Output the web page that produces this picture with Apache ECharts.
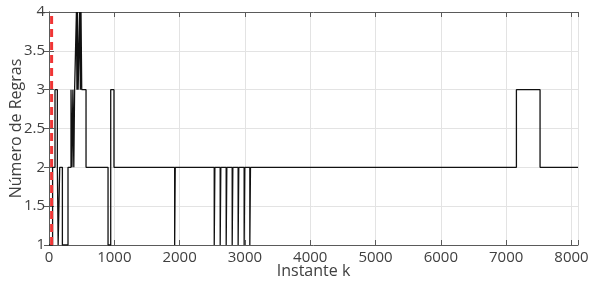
<!DOCTYPE html>
<html lang="pt">
<head>
<meta charset="UTF-8">
<title>Número de Regras</title>
<style>
  html, body { margin: 0; padding: 0; background: #fff; }
  #chart { width: 594px; height: 293px; }
</style>
</head>
<body>
<div id="chart"></div>
<script src="https://cdn.jsdelivr.net/npm/echarts@6/dist/echarts.min.js"></script>
<script>
// instantes onde o número de regras muda, e o novo valor a partir daí
var stepK = [0, 55, 92, 128, 140, 164, 205, 291,
  337, 352, 366, 380, 392, 420, 428, 436, 446, 470, 480, 490, 501, 567,
  904, 945, 995,
  1924, 1933,
  2530, 2540, 2621, 2631, 2713, 2723, 2805, 2815, 2896, 2906, 2988, 2998, 3075, 3085,
  7157, 7519, 8100]
var stepV = [1, 2, 3, 2, 1, 2, 1, 2,
  3, 2, 3, 2, 3, 4, 3, 4, 3, 4, 3, 4, 3, 2,
  1, 3, 2,
  1, 2,
  1, 2, 1, 2, 1, 2, 1, 2, 1, 2, 1, 2, 1, 2,
  3, 2, 2]
// linha vertical tracejada (vermelha)
var markK = 40
var yRange = [1, 4]
var xTicks = [0, 1000, 2000, 3000, 4000, 5000, 6000, 7000, 8000]

var regras = stepK.map(function (k, i) { return [k, stepV[i]] })
var marca = yRange.map(function (v) { return [markK, v] })

var font = 'Open Sans'
var txt = '#404040'
var axisCol = '#5a5a5a'

var chart = echarts.init(document.getElementById('chart'))
chart.setOption({
  animation: false,
  grid: { left: 49, right: 16, top: 12, bottom: 48, containLabel: false, outerBoundsMode: 'none' },
  xAxis: [{
    type: 'value', min: 0, max: 8100, interval: 1000,
    name: 'Instante k', nameLocation: 'middle', nameGap: 18, nameMoveOverlap: false,
    nameTextStyle: { fontFamily: font, fontSize: 16, color: txt },
    axisLine: { lineStyle: { color: axisCol, width: 1 } },
    axisTick: { inside: true, length: 5, lineStyle: { color: axisCol } },
    axisLabel: { fontFamily: font, fontSize: 15, color: txt, margin: 5,
      formatter: function (v) { return xTicks.indexOf(v) >= 0 ? v : '' } },
    splitLine: { show: true, lineStyle: { color: '#e3e3e3', width: 1 } }
  }, {
    type: 'value', position: 'top', min: 0, max: 8100, interval: 1000,
    axisLine: { show: true, lineStyle: { color: axisCol, width: 1 } },
    axisTick: { inside: true, length: 5, lineStyle: { color: axisCol } },
    axisLabel: { show: false }, splitLine: { show: false }
  }],
  yAxis: [{
    type: 'value', min: 1, max: 4, interval: 0.5,
    name: 'Número de Regras', nameLocation: 'middle', nameGap: 25, nameMoveOverlap: false,
    nameTextStyle: { fontFamily: font, fontSize: 16, color: txt },
    axisLine: { show: true, lineStyle: { color: axisCol, width: 1 } },
    axisTick: { show: true, inside: true, length: 5, lineStyle: { color: axisCol } },
    axisLabel: { fontFamily: font, fontSize: 15, color: txt, margin: 4 },
    splitLine: { show: true, lineStyle: { color: '#e3e3e3', width: 1 } }
  }, {
    type: 'value', position: 'right', min: 1, max: 4, interval: 0.5,
    axisLine: { show: true, lineStyle: { color: axisCol, width: 1 } },
    axisTick: { show: true, inside: true, length: 5, lineStyle: { color: axisCol } },
    axisLabel: { show: false }, splitLine: { show: false }
  }],
  series: [{
    type: 'line', step: 'end', data: regras,
    showSymbol: false, symbol: 'none',
    lineStyle: { color: '#111', width: 1.3 }
  }, {
    type: 'line', data: marca, showSymbol: false, symbol: 'none',
    lineStyle: { color: '#f03535', width: 3, type: [8, 5] }
  }]
})
</script>
</body>
</html>
